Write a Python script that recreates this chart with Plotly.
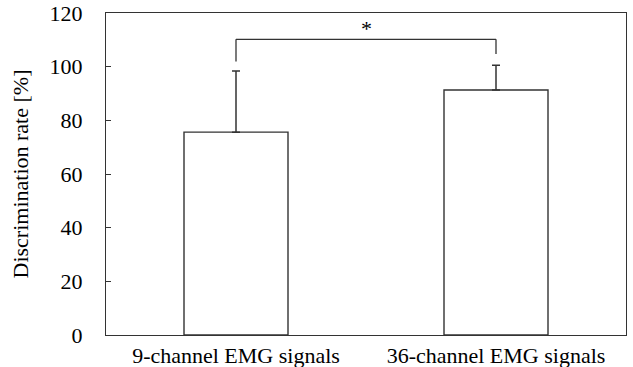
import plotly.graph_objects as go

categories = ["9-channel EMG signals", "36-channel EMG signals"]
means = [75.6, 91.3]
sd_plus = [22.8, 9.2]
sd_minus = [0, 0]
y_ticks = [0, 20, 40, 60, 80, 100, 120]

# significance bracket (data units)
bracket_top = 110.2
bracket_leg_ends = [101.9, 104.7]
star_level = 114.3

FONT = "Liberation Serif, Times New Roman, serif"
LINE = "#333333"
FS = 22

fig = go.Figure()
fig.add_trace(go.Bar(
    x=[0, 1], y=means,
    width=0.4,
    marker=dict(color="white", line=dict(color=LINE, width=1.4)),
    error_y=dict(type="data", symmetric=False, array=sd_plus, arrayminus=sd_minus,
                 color=LINE, thickness=1.5, width=4),
    showlegend=False,
    hoverinfo="skip",
))

# bracket
fig.add_shape(type="line", x0=0, x1=0, y0=bracket_leg_ends[0], y1=bracket_top,
              line=dict(color=LINE, width=1.3))
fig.add_shape(type="line", x0=0, x1=1, y0=bracket_top, y1=bracket_top,
              line=dict(color=LINE, width=1.3))
fig.add_shape(type="line", x0=1, x1=1, y0=bracket_leg_ends[1], y1=bracket_top,
              line=dict(color=LINE, width=1.3))
fig.add_annotation(x=0.5, y=star_level, text="*", showarrow=False,
                   font=dict(family=FONT, size=FS, color="black"), yanchor="middle")

fig.update_layout(
    width=633, height=367,
    margin=dict(l=106, r=7, t=13, b=32),
    paper_bgcolor="white", plot_bgcolor="white",
    font=dict(family=FONT, size=FS, color="black"),
    xaxis=dict(range=[-0.5, 1.5], tickvals=[0, 1], ticktext=categories,
               showline=True, linecolor=LINE, linewidth=1.4, mirror=True,
               showgrid=False, zeroline=False, ticks="", automargin=False,
               tickfont=dict(family=FONT, size=FS)),
    yaxis=dict(range=[0, 120], tickvals=y_ticks, automargin=False,
               showline=True, linecolor=LINE, linewidth=1.4, mirror=True,
               showgrid=False, zeroline=False, ticks="inside", ticklen=5,
               tickcolor=LINE, ticklabelstandoff=18,
               tickfont=dict(family=FONT, size=FS),
               title=dict(text="Discrimination rate [%]", standoff=14,
                          font=dict(family=FONT, size=FS))),
)

fig.write_html("out.html", config={"displayModeBar": False},
               post_script="document.body.style.margin='0';document.body.style.overflow='hidden';")
